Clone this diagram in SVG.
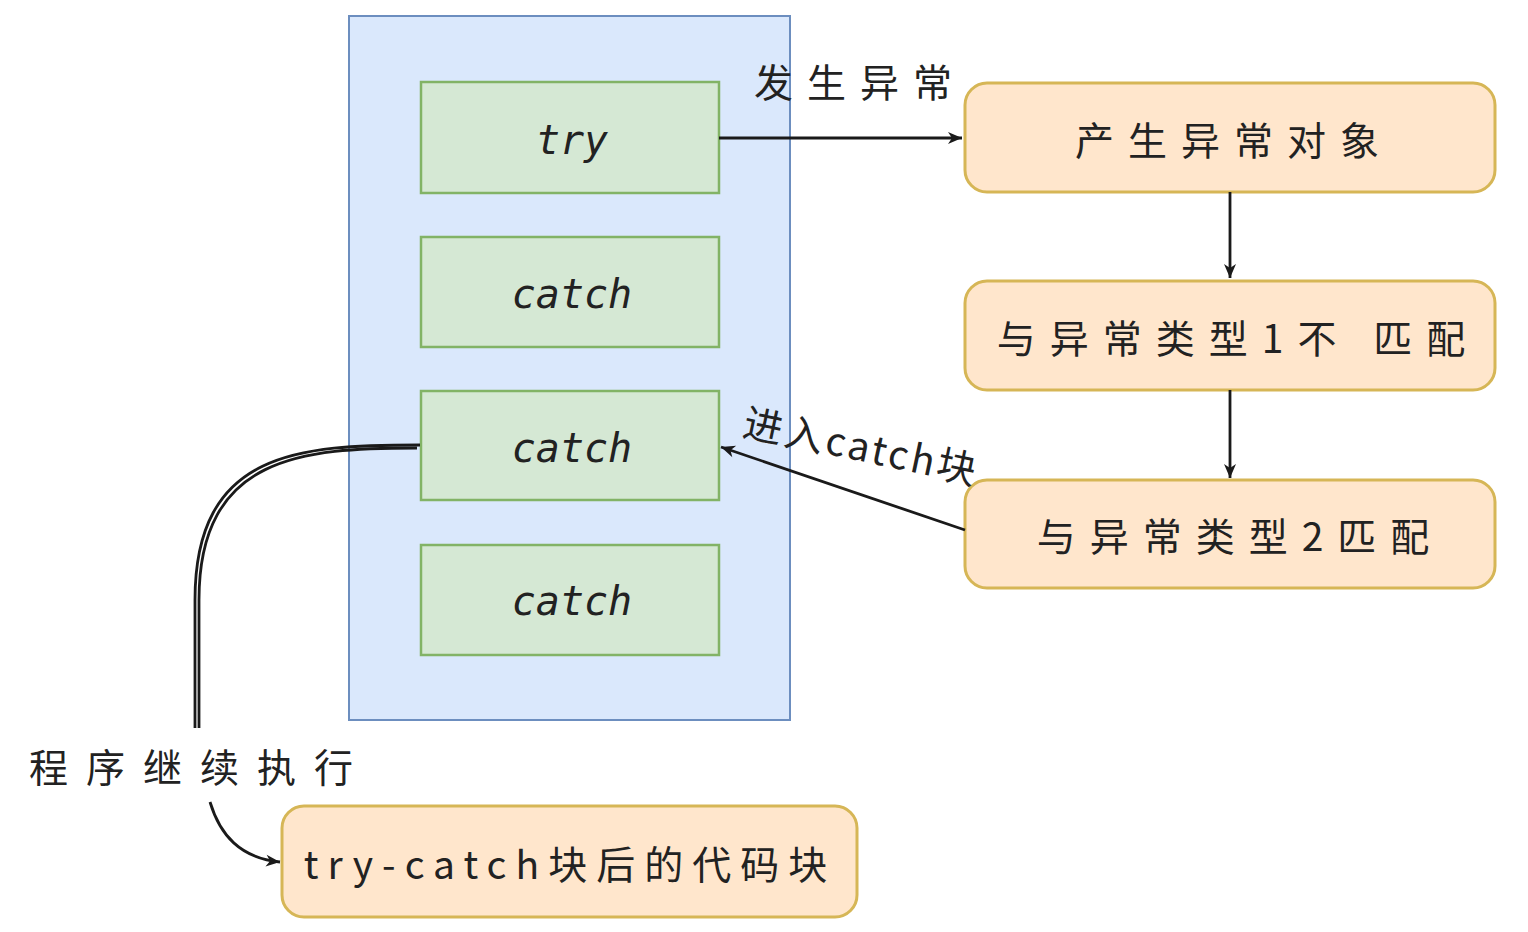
<svg xmlns="http://www.w3.org/2000/svg" width="1528" height="932" viewBox="0 0 1528 932">
<style>
.container{fill:#dae8fc;stroke:#6c8ebf;stroke-width:2}
.green{fill:#d5e8d4;stroke:#82b366;stroke-width:2.5}
.orange{fill:#ffe6cc;stroke:#d6b656;stroke-width:3}
.code{font-family:"DejaVu Sans Mono","Liberation Mono",monospace;font-style:italic;font-size:40px;fill:#222;text-anchor:middle;dominant-baseline:central}
.cn{font-family:"Noto Sans CJK SC",sans-serif;font-size:39px;fill:#222;text-anchor:middle;dominant-baseline:central;letter-spacing:14px}
.edge{fill:none;stroke:#1a1a1a;stroke-width:2.8}
</style>
<defs>
<marker id="a2" viewBox="0 0 16 16" refX="15" refY="8" markerWidth="16" markerHeight="16" orient="auto" markerUnits="userSpaceOnUse">
<path d="M1,2 L15,8 L1,14 L5,8 Z" fill="#1a1a1a"/>
</marker>
</defs>
<rect width="1528" height="932" fill="#ffffff"/>
<g id="container">
<rect class="container" x="349" y="16" width="441" height="704"/>
</g>
<g id="try">
<rect class="green" x="421" y="82" width="298" height="111"/>
<text class="code" x="572" y="140">try</text>
</g>
<g id="catch1">
<rect class="green" x="421" y="237" width="298" height="110"/>
<text class="code" x="572" y="294">catch</text>
</g>
<g id="catch2">
<rect class="green" x="421" y="391" width="298" height="109"/>
<text class="code" x="572" y="448">catch</text>
</g>
<g id="catch3">
<rect class="green" x="421" y="545" width="298" height="110"/>
<text class="code" x="572" y="601">catch</text>
</g>
<g id="exObj">
<rect class="orange" x="965" y="83" width="530" height="109" rx="22"/>
<text class="cn" x="1234" y="138">产生异常对象</text>
</g>
<g id="type1">
<rect class="orange" x="965" y="281" width="530" height="109" rx="22"/>
<text class="cn" x="1238" y="336">与异常类型1不 匹配</text>
</g>
<g id="type2">
<rect class="orange" x="965" y="480" width="530" height="108" rx="22"/>
<text class="cn" x="1240" y="534">与异常类型2匹配</text>
</g>
<g id="after">
<rect class="orange" x="282" y="806" width="575" height="111" rx="22"/>
<text class="cn" x="570" y="862" style="letter-spacing:9px">try-catch块后的代码块</text>
</g>
<g id="connectors">
<path class="edge" d="M719,138 L962,138" marker-end="url(#a2)"/>
<path class="edge" d="M1230,192 L1230,278" marker-end="url(#a2)"/>
<path class="edge" d="M1230,390 L1230,478" marker-end="url(#a2)"/>
<path class="edge" d="M965,530 L721,447" marker-end="url(#a2)"/>
<path class="edge" d="M420,445 C300,445 195,450 195,600 L195,728"/>
<path class="edge" d="M417,448 C303,448 199,455 199,600 L199,728" stroke-width="1.2"/>
<path class="edge" d="M210,802 C220,835 240,858 280,862" marker-end="url(#a2)"/>
</g>
<g id="labels">
<text class="cn" x="860" y="80">发生异常</text>
<text class="cn" x="862" y="444" transform="rotate(12 862 444)" style="letter-spacing:3px">进入catch块</text>
<text class="cn" x="200" y="765" style="letter-spacing:18px">程序继续执行</text>
</g>
</svg>
